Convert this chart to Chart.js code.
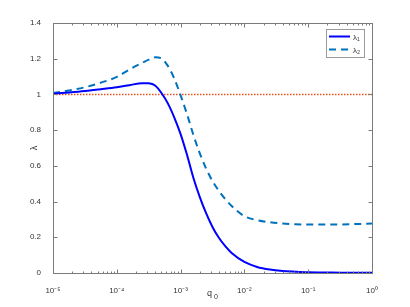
<!DOCTYPE html>
<html>
<head>
<meta charset="utf-8">
<script src="https://cdn.jsdelivr.net/npm/chart.js@4/dist/chart.umd.min.js"></script>
<style>
html,body{margin:0;padding:0;background:#fff;}
canvas{display:block;}
</style>
</head>
<body>
<canvas id="c" width="410" height="307"></canvas>
<script>
// ---- data ----
const q0 = [1e-5, 1.78e-5, 3.16e-5, 5.62e-5, 1e-4, 1.58e-4, 2.51e-4, 3.16e-4, 3.98e-4, 5.01e-4,
            6.31e-4, 7.94e-4, 1e-3, 1.26e-3, 1.58e-3, 2e-3, 2.51e-3, 3.16e-3, 3.98e-3, 5.01e-3,
            6.31e-3, 1e-2, 1.58e-2, 2.51e-2, 3.98e-2, 6.31e-2, 1e-1, 1.78e-1, 3.16e-1, 5.62e-1, 1];
const lambda1 = [1.004, 1.011, 1.019, 1.029, 1.040, 1.052, 1.063, 1.062, 1.050, 1.008,
                 0.950, 0.872, 0.778, 0.662, 0.535, 0.425, 0.335, 0.258, 0.197, 0.150,
                 0.112, 0.062, 0.034, 0.019, 0.011, 0.007, 0.004, 0.003, 0.002, 0.001, 0.001];
const lambda2 = [1.008, 1.022, 1.040, 1.066, 1.098, 1.140, 1.177, 1.195, 1.208, 1.202,
                 1.160, 1.090, 0.995, 0.890, 0.775, 0.670, 0.585, 0.515, 0.460, 0.414,
                 0.375, 0.318, 0.296, 0.284, 0.277, 0.273, 0.271, 0.271, 0.272, 0.274, 0.277];
const refX = [1e-5, 1];
const refY = [1, 1];
const seriesNames = ['λ\u2081', 'λ\u2082'];
const yTicks = [0, 0.2, 0.4, 0.6, 0.8, 1, 1.2, 1.4];
const xDecades = [1e-5, 1e-4, 1e-3, 1e-2, 1e-1, 1];
const xDecadeLabels = ['10\u207B\u2075', '10\u207B\u2074', '10\u207B\u00B3', '10\u207B\u00B2', '10\u207B\u00B9', '10\u2070'];
const xTitle = 'q';
const xTitleSub = '0';
const yTitle = 'λ';

const C1 = '#0000ff', C2 = '#0072bd', C3 = '#e8501a';
const FONT = 'Liberation Sans, Arial, sans-serif';
const AX = '#7a7a7a';

function pts(xs, ys){ return xs.map((x,i)=>({x:x, y:ys[i]})); }

const frame = {
  id:'frame',
  afterDraw(chart){
    const ctx = chart.ctx, a = chart.chartArea;
    const xs = chart.scales.x, ys = chart.scales.y;
    ctx.save();
    ctx.strokeStyle = AX; ctx.lineWidth = 1;
    const L = Math.round(a.left)+0.5, R = Math.round(a.right)+0.5, T = Math.round(a.top)+0.5, B = Math.round(a.bottom)+0.5;
    ctx.strokeRect(L, T, R-L, B-T);
    ctx.beginPath();
    yTicks.forEach(v=>{
      const y = Math.round(ys.getPixelForValue(v))+0.5;
      ctx.moveTo(L, y); ctx.lineTo(L+4, y);
      ctx.moveTo(R, y); ctx.lineTo(R-4, y);
    });
    for (let e=-5; e<=0; e++){
      for (let m=1; m<=9; m++){
        const v = m*Math.pow(10,e);
        if (v > 1.0000001) break;
        const x = Math.round(xs.getPixelForValue(v))+0.5;
        const len = m===1 ? 4 : 2;
        ctx.moveTo(x, B); ctx.lineTo(x, B-len);
        ctx.moveTo(x, T); ctx.lineTo(x, T+len);
      }
    }
    ctx.stroke();

    ctx.fillStyle = '#333';
    ctx.font = '9px ' + FONT;
    ctx.textAlign = 'left'; ctx.textBaseline = 'alphabetic';
    ctx.fillText(xTitle, 207, 296);
    ctx.font = '7px ' + FONT;
    ctx.fillText(xTitleSub, 214, 299);
    ctx.save();
    ctx.translate(35, 148); ctx.rotate(-Math.PI/2);
    ctx.font = '9px ' + FONT; ctx.textAlign='center'; ctx.textBaseline='middle';
    ctx.fillText(yTitle, 0, 0);
    ctx.restore();

    const lx = 326.5, ly = 29.5, lw = 38, lh = 28;
    ctx.fillStyle = '#fff';
    ctx.fillRect(lx, ly, lw, lh);
    ctx.strokeStyle = '#999'; ctx.lineWidth = 1;
    ctx.strokeRect(lx, ly, lw, lh);
    const rows = [{c:C1, d:[], y:36.5, t:seriesNames[0]}, {c:C2, d:[7,5], y:49.5, t:seriesNames[1]}];
    rows.forEach(r=>{
      ctx.beginPath();
      ctx.strokeStyle = r.c; ctx.lineWidth = 2; ctx.setLineDash(r.d);
      ctx.moveTo(329, r.y); ctx.lineTo(350, r.y); ctx.stroke();
      ctx.setLineDash([]);
      ctx.fillStyle = '#333'; ctx.font = '8px ' + FONT;
      ctx.textAlign='left'; ctx.textBaseline='middle';
      ctx.fillText(r.t, 353, r.y+1);
    });
    ctx.restore();
  }
};

new Chart(document.getElementById('c'), {
  type: 'line',
  data: {
    datasets: [
      {label: seriesNames[0], data: pts(q0, lambda1), borderColor: C1, borderWidth: 2, pointRadius: 0,
       cubicInterpolationMode: 'monotone', fill: false},
      {label: seriesNames[1], data: pts(q0, lambda2), borderColor: C2, borderWidth: 2, borderDash: [7,5], pointRadius: 0,
       cubicInterpolationMode: 'monotone', fill: false},
      {label: 'ref', data: pts(refX, refY), borderColor: C3, borderWidth: 1.5, borderDash: [1.5,1.5], pointRadius: 0, fill:false}
    ]
  },
  options: {
    responsive: false,
    devicePixelRatio: 1,
    animation: false,
    layout: {padding: {top: 23, right: 38, left: 0, bottom: 0}},
    plugins: {legend: {display: false}, tooltip: {enabled: false}},
    scales: {
      x: {
        type: 'logarithmic', min: 1e-5, max: 1,
        grid: {display: false}, border: {display: false},
        afterFit(s){ s.height = 34; },
        afterBuildTicks(s){ s.ticks = xDecades.map(v=>({value:v})); },
        ticks: {
          autoSkip: false, maxRotation: 0, padding: 5,
          color: '#333', font: {family: FONT, size: 8},
          callback(v){ const i = xDecades.findIndex(d=>Math.abs(d-v)/d < 1e-6); return i>=0 ? xDecadeLabels[i] : ''; }
        }
      },
      y: {
        type: 'linear', min: 0, max: 1.4,
        grid: {display: false}, border: {display: false},
        afterFit(s){ s.width = 53; },
        afterBuildTicks(s){ s.ticks = yTicks.map(v=>({value:v})); },
        ticks: {
          padding: 4, color: '#333', font: {family: FONT, size: 8},
          callback(v){ return String(Number(v.toFixed(1))); }
        }
      }
    }
  },
  plugins: [frame]
});
</script>
</body>
</html>
